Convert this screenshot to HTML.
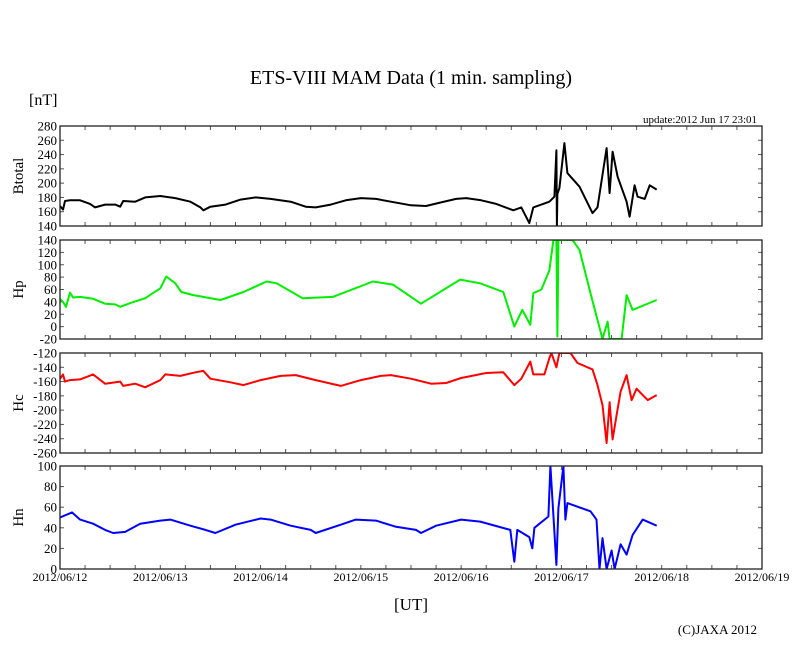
<!DOCTYPE html>
<html><head><meta charset="utf-8">
<style>
body{margin:0;background:#fff;}
svg{display:block;font-family:"Liberation Serif",serif;}
</style></head>
<body>
<svg id="chart" width="810" height="655" viewBox="0 0 810 655" xmlns="http://www.w3.org/2000/svg">
<text x="411" y="84" font-size="20" text-anchor="middle">ETS-VIII MAM Data (1 min. sampling)</text>
<text x="29" y="105" font-size="16">[nT]</text>
<text x="757" y="123" font-size="11" text-anchor="end">update:2012 Jun 17 23:01</text>
<text x="411" y="610" font-size="17" text-anchor="middle">[UT]</text>
<text x="757" y="634" font-size="13" text-anchor="end">(C)JAXA 2012</text>
<g id="plots"></g>
</svg>
<script>
const xTickLabels = ["2012/06/12","2012/06/13","2012/06/14","2012/06/15","2012/06/16","2012/06/17","2012/06/18","2012/06/19"];
const panelNames = ["Btotal","Hp","Hc","Hn"];
const panelColors = ["#000000","#00ee00","#ff0000","#0000ff"];
const yMins = [140,-20,-260,0];
const yMaxs = [280,140,-120,100];
const yStepVals = [20,20,20,20];

const btT = [0,0.03,0.05,0.1,0.2,0.3,0.35,0.45,0.55,0.6,0.63,0.75,0.85,1.0,1.15,1.3,1.4,1.43,1.5,1.65,1.8,1.95,2.1,2.3,2.45,2.55,2.7,2.85,3.0,3.15,3.3,3.5,3.65,3.8,3.95,4.05,4.2,4.35,4.52,4.6,4.68,4.72,4.88,4.93,4.95,4.955,4.96,4.98,5.03,5.06,5.18,5.31,5.36,5.45,5.48,5.51,5.56,5.65,5.68,5.73,5.76,5.83,5.88,5.95];
const btV = [168,163,175,176,176,171,166,170,170,167,175,174,180,182,179,174,166,162,167,170,177,180,178,174,167,166,170,176,179,178,174,169,168,173,178,179,176,171,162,166,144,166,174,181,246,140,185,193,256,214,195,158,166,249,186,244,209,174,153,197,181,178,197,191];

const hpT = [0,0.03,0.06,0.1,0.13,0.2,0.33,0.45,0.55,0.6,0.7,0.85,1.0,1.06,1.15,1.21,1.33,1.6,1.83,2.06,2.16,2.42,2.72,3.12,3.32,3.6,3.99,4.19,4.42,4.53,4.61,4.69,4.72,4.8,4.88,4.92,4.95,4.96,4.97,5.11,5.18,5.29,5.41,5.46,5.48,5.6,5.65,5.71,5.95];
const hpV = [45,40,32,55,47,48,45,37,36,32,38,46,62,81,70,56,51,43,56,73,70,46,48,73,68,37,76,70,56,0,27,3,54,60,91,140,140,-16,140,140,124,54,-20,8,-20,-20,51,27,43];

const hcT = [0,0.03,0.05,0.1,0.2,0.33,0.45,0.6,0.63,0.75,0.85,1.0,1.05,1.2,1.35,1.43,1.5,1.7,1.83,2.0,2.2,2.35,2.55,2.8,3.0,3.2,3.3,3.5,3.7,3.85,4.0,4.25,4.42,4.53,4.6,4.69,4.72,4.83,4.88,4.9,4.95,4.98,5.09,5.16,5.31,5.36,5.41,5.45,5.48,5.51,5.55,5.59,5.65,5.7,5.75,5.81,5.86,5.95];
const hcV = [-156,-150,-160,-158,-157,-150,-163,-160,-166,-163,-168,-158,-150,-152,-147,-145,-156,-161,-165,-158,-152,-151,-158,-166,-158,-152,-151,-156,-163,-162,-155,-148,-147,-165,-156,-132,-150,-150,-127,-120,-140,-120,-120,-134,-143,-165,-193,-246,-189,-241,-207,-174,-151,-186,-170,-179,-186,-179];

const hnT = [0,0.12,0.2,0.33,0.45,0.53,0.65,0.8,1.0,1.1,1.3,1.45,1.55,1.75,2.0,2.1,2.3,2.5,2.55,2.8,2.95,3.15,3.35,3.55,3.6,3.75,4.0,4.19,4.49,4.53,4.56,4.68,4.71,4.73,4.87,4.89,4.95,4.97,5.02,5.04,5.06,5.29,5.35,5.38,5.41,5.45,5.5,5.53,5.59,5.65,5.71,5.81,5.95];
const hnV = [50,55,48,44,38,35,36,44,47,48,42,38,35,43,49,48,42,38,35,43,48,47,41,38,35,42,48,46,38,7,38,31,20,40,51,100,4,59,100,48,64,56,48,0,30,0,18,0,24,14,33,48,42];

const seriesT = [btT,hpT,hcT,hnT];
const seriesV = [btV,hpV,hcV,hnV];

const X0=60, X1=762, DAYS=7;
const tops=[126,240,353,466], bots=[226,339,453,569];
const NS="http://www.w3.org/2000/svg";
const g=document.getElementById('plots');
function xScale(d){return X0+(X1-X0)*d/DAYS;}
function yScale(i,v){return bots[i]-(bots[i]-tops[i])*(v-yMins[i])/(yMaxs[i]-yMins[i]);}
function mk(tag,attrs){const e=document.createElementNS(NS,tag);for(const k in attrs)e.setAttribute(k,attrs[k]);return e;}

for(let i=0;i<4;i++){
  const pg=mk('g',{});
  
  
  g.appendChild(pg);
  for(let v=yMins[i];v<=yMaxs[i];v+=yStepVals[i]){
    const y=yScale(i,v);
    pg.appendChild(mk('line',{x1:X0,x2:X0+4,y1:y,y2:y,stroke:'#555','stroke-width':1}));
    pg.appendChild(mk('line',{x1:X1-4,x2:X1,y1:y,y2:y,stroke:'#555','stroke-width':1}));
    const t=mk('text',{x:X0-3,y:y+4.5,'font-size':13,'text-anchor':'end'});
    t.textContent=v;
    
    
    pg.appendChild(t);
  }
  for(let q=0;q<=DAYS*4;q++){
    const x=xScale(q/4);
    pg.appendChild(mk('line',{x1:x,x2:x,y1:tops[i],y2:tops[i]+4,stroke:'#555','stroke-width':1}));
    pg.appendChild(mk('line',{x1:x,x2:x,y1:bots[i]-4,y2:bots[i],stroke:'#555','stroke-width':1}));
  }
  const cid='clip'+i;
  const cp=mk('clipPath',{id:cid});
  cp.appendChild(mk('rect',{x:X0,y:tops[i],width:X1-X0,height:bots[i]-tops[i]}));
  pg.appendChild(cp);
  const T=seriesT[i],V=seriesV[i];
  let d='';
  for(let k=0;k<T.length;k++){
    const v=Math.max(yMins[i],Math.min(yMaxs[i],V[k]));
    d+=(k?'L':'M')+xScale(T[k]).toFixed(1)+','+yScale(i,v).toFixed(1);
  }
  const p=mk('path',{d:d,fill:'none',stroke:panelColors[i],'stroke-width':2,'stroke-linejoin':'round','clip-path':'url(#'+cid+')'});
  
  
  pg.appendChild(p);
  const fr=mk('rect',{x:X0,y:tops[i],width:X1-X0,height:bots[i]-tops[i],fill:'none',stroke:'#222','stroke-width':1.3});
  
  
  pg.appendChild(fr);
  const yl=mk('text',{x:0,y:0,'font-size':15,'text-anchor':'middle',transform:'translate(23,'+((tops[i]+bots[i])/2)+') rotate(-90)'});
  yl.textContent=panelNames[i];
  
  
  pg.appendChild(yl);
}
for(let k=0;k<xTickLabels.length;k++){
  const t=mk('text',{x:xScale(k),y:581,'font-size':12,'text-anchor':'middle'});
  t.textContent=xTickLabels[k];
  
  
  g.appendChild(t);
}
</script>
</body></html>
